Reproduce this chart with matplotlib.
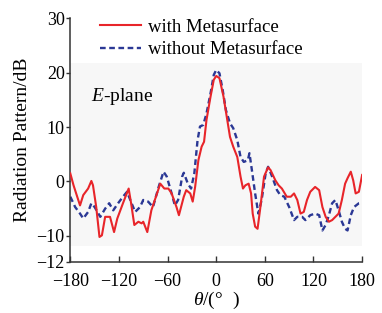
import matplotlib.pyplot as plt
from matplotlib.patches import Rectangle

plt.rcParams['font.family'] = 'Liberation Serif'
plt.rcParams['mathtext.fontset'] = 'custom'
plt.rcParams['mathtext.rm'] = 'Liberation Serif'
plt.rcParams['mathtext.it'] = 'Liberation Serif:italic'
plt.rcParams['axes.unicode_minus'] = True

# Data
theta_with = [-180, -176, -168, -164, -158, -154, -152, -148, -144, -141, -137, -131, -126, -122,
              -115, -108, -105, -101, -96, -92, -90, -85, -80, -73, -69, -64, -59, -55, -49, -46,
              -40, -37, -32, -29, -26, -22, -18, -15, -12, -7, -3, 0, 4, 9, 13, 17, 21, 26, 30,
              33, 36, 40, 43, 45, 48, 51, 54, 59, 64, 67, 73, 77, 81, 87, 92, 96, 100, 104, 108,
              112, 116, 122, 127, 131, 135, 139, 143, 147, 151, 155, 159, 162, 166, 169, 172, 176, 180]
gain_with = [1.5, -0.7, -4.4, -2.5, -1.3, 0.1, -0.7, -4.7, -10.2, -9.9, -6.5, -6.5, -9.3, -6.8,
             -4.0, -1.3, -4.0, -8.0, -7.4, -7.7, -7.4, -9.3, -5.3, -2.2, -0.4, -1.3, -1.3, -2.2,
             -4.7, -6.2, -2.8, -1.6, -2.2, -3.7, -1.0, 3.9, 6.4, 7.3, 11.3, 15.6, 18.7, 19.4,
             19.0, 15.6, 11.9, 8.2, 6.4, 4.5, 0.9, -1.3, -0.7, -0.4, -2.2, -5.9, -8.3, -8.7,
             -5.3, 0.9, 2.6, 2.1, 0.2, -0.7, -1.3, -2.8, -2.8, -2.2, -3.4, -5.9, -5.6, -3.4,
             -1.9, -1.0, -1.6, -4.7, -6.5, -7.4, -7.1, -6.5, -5.9, -3.4, -0.4, 0.6, 1.8, 0.2,
             -2.2, -1.9, 1.2]

theta_without = [-180, -174, -168, -164, -158, -154, -150, -143, -137, -132, -127, -121, -115,
                 -110, -106, -100, -94, -90, -84, -78, -71, -65, -61, -55, -51, -47, -42, -40,
                 -35, -31, -27, -23, -20, -16, -12, -7, -3, 0, 4, 8, 12, 17, 21, 26, 30, 34, 39,
                 41, 44, 48, 52, 56, 61, 64, 69, 75, 79, 84, 90, 96, 100, 106, 110, 116, 122,
                 127, 131, 135, 139, 143, 147, 151, 155, 159, 162, 166, 170, 176, 180]
gain_without = [-2.8, -4.7, -5.9, -6.8, -5.6, -4.0, -4.7, -6.5, -5.0, -4.0, -5.3, -4.0, -2.8,
                -1.9, -3.4, -5.6, -4.7, -3.4, -3.7, -4.7, -1.0, 1.8, 0.9, -2.2, -4.4, -3.4, 0.9,
                1.6, -0.4, -1.3, 1.5, 7.6, 10.1, 10.4, 12.5, 16.2, 19.6, 20.5, 19.9, 16.8, 13.1,
                10.7, 9.8, 7.6, 4.5, 3.6, 3.9, 5.2, 2.1, -2.2, -5.9, -3.4, 1.5, 2.7, 0.9, -1.6,
                -2.5, -2.8, -4.7, -7.1, -6.5, -6.5, -7.1, -6.2, -5.9, -6.2, -9.0, -8.0, -6.2,
                -4.0, -3.4, -5.3, -7.4, -8.7, -9.0, -6.2, -4.7, -4.0, -3.9]

xticks = [-180, -120, -60, 0, 60, 120, 180]
ytick_pos = [-14.8, -10, 0, 10, 20, 30]
ytick_labels = ['\u221212', '\u221210', '0', '10', '20', '30']

fig = plt.figure(figsize=(3.82, 3.13), dpi=100)
ax = fig.add_axes([0.184, 0.163, 0.764, 0.7785])

# light panel behind the curves
ax.add_patch(Rectangle((-180, -11.8), 360, 33.6, facecolor='#f7f7f7', edgecolor='none', zorder=0))

ax.plot(theta_with, gain_with, color='#e8252a', lw=1.5, label='with Metasurface', zorder=3)
ax.plot(theta_without, gain_without, color='#2b3895', lw=1.7, ls=(0, (2.4, 1.5)),
        label='without Metasurface', zorder=2)

ax.set_xlim(-180, 180)
ax.set_ylim(-14.8, 30)
ax.set_xticks(xticks)
ax.set_xticklabels([str(t).replace('-', '\u2212') for t in xticks])
ax.set_yticks(ytick_pos)
ax.set_yticklabels(ytick_labels)

for s in ['top', 'right']:
    ax.spines[s].set_visible(False)
for s in ['left', 'bottom']:
    ax.spines[s].set_color('#333333')
    ax.spines[s].set_linewidth(1.1)
ax.tick_params(axis='y', direction='out', length=3, width=1, color='#333333', labelsize=13, pad=1)
ax.tick_params(axis='x', direction='in', length=4, width=1, color='#333333', labelsize=13, pad=8)

ax.set_ylabel('Radiation Pattern/dB', fontsize=14, labelpad=4)
ax.set_xlabel(r'$\theta$' + '/(\u00b0  )', fontsize=14, labelpad=0)

ax.text(-154, 15.7, r'$E$-plane', fontsize=14, va='center', ha='left')

ax.legend(loc='upper left', bbox_to_anchor=(0.075, 1.03), frameon=False, fontsize=13.5,
          handlelength=2.2, handletextpad=0.4, labelspacing=0.3, borderaxespad=0)

fig.savefig('out.png', dpi=100)
